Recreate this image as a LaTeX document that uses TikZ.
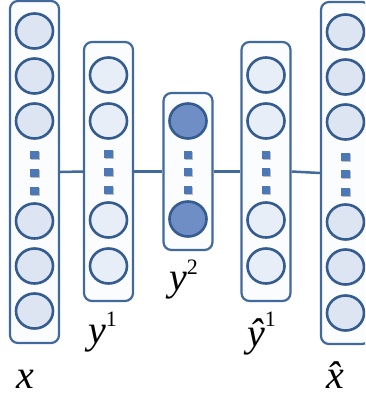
\documentclass[tikz,border=0pt]{standalone}
\usepackage{fontspec}
\setmainfont{Liberation Serif}
\usetikzlibrary{shapes.geometric,shadows}

\definecolor{boxline}{HTML}{41699C}
\definecolor{ringline}{HTML}{345C90}
\definecolor{cellfill}{HTML}{DCE5F1}
\definecolor{cellfillB}{HTML}{E8EEF7}
\definecolor{codefill}{HTML}{6F8EC6}
\definecolor{dotblue}{HTML}{4C79B6}
\definecolor{boxfill}{HTML}{FBFCFE}

\tikzset{
  layer/.style={draw=boxline, line width=2.2pt, rounded corners=8pt, fill=boxfill,
    minimum width=49pt, inner sep=0pt},
  unit/.style={ellipse, draw=ringline, line width=2.6pt, fill=cellfill,
    minimum width=37pt, minimum height=35pt, inner sep=0pt},
  unitB/.style={unit, fill=cellfillB},
  code/.style={unit, fill=codefill},
  ellipsisdot/.style={rectangle, fill=dotblue, minimum size=8.5pt, inner sep=0pt,
    drop shadow={shadow xshift=0.8pt, shadow yshift=-0.8pt, fill=black, opacity=0.25}},
  link/.style={draw=boxline, line width=2.5pt},
  lbl/.style={anchor=base west, inner sep=0pt, font=\fontsize{40}{40}\selectfont\itshape},
}
\newcommand{\supnum}[2]{\raisebox{#1}{\fontsize{22}{22}\selectfont\upshape #2}}

\begin{document}
\begin{tikzpicture}[x=1pt, y=-1pt]
  \path[use as bounding box, clip] (0,0) rectangle (365,397);

  % layer frames
  \node[layer, minimum height=342pt] (colX)  at (34.5,172) {};
  \node[layer, minimum height=259pt] (colA)  at (108.5,171.5) {};
  \node[layer, minimum height=157pt] (colB)  at (188,171.5) {};
  \node[layer, minimum height=259pt] (colC)  at (266,171.5) {};
  \node[layer, minimum height=342pt] (colXh) at (345.5,173) {};

  % links between neighbouring layers
  \draw[link] (colX.east) -- (colA.west);
  \draw[link] (colA.east) -- (colB.west);
  \draw[link] (colB.east) -- (colC.west);
  \draw[link] (colC.east) -- (colXh.west);

  % input layer
  \foreach \y [count=\i] in {31,76,121,221,266,311}
    \node[unit] (x\i) at (34.5,\y) {};
  \foreach \y [count=\i] in {155,173,191}
    \node[ellipsisdot] (xd\i) at (34.5,\y) {};

  % first hidden layer
  \foreach \y [count=\i] in {75,121,220,266}
    \node[unitB] (a\i) at (108.5,\y) {};
  \foreach \y [count=\i] in {154,172,190}
    \node[ellipsisdot] (ad\i) at (108.5,\y) {};

  % code layer
  \node[code] (b1) at (188,121) {};
  \node[code] (b2) at (188,219) {};
  \foreach \y [count=\i] in {155,172,190}
    \node[ellipsisdot] (bd\i) at (188,\y) {};

  % reconstructed hidden layer
  \foreach \y [count=\i] in {75,121,220,266}
    \node[unitB] (c\i) at (266,\y) {};
  \foreach \y [count=\i] in {155,172,190}
    \node[ellipsisdot] (cd\i) at (266,\y) {};

  % output layer
  \foreach \y [count=\i] in {32,77,122,222,267,313}
    \node[unit] (xh\i) at (345.5,\y) {};
  \foreach \y [count=\i] in {157,174,192}
    \node[ellipsisdot] (xhd\i) at (345.5,\y) {};

  % layer names
  \node[lbl] (lx)  at (16,388)  {x};
  \node[lbl] (la)  at (88,343)  {y\supnum{17pt}{1}};
  \node[lbl] (lb)  at (169,290) {y\supnum{16pt}{2}};
  \node[lbl] (lc)  at (247,346) {\^{y}\supnum{20pt}{1}};
  \node[lbl] (lxh) at (326,388) {\^{x}};
\end{tikzpicture}
\end{document}
